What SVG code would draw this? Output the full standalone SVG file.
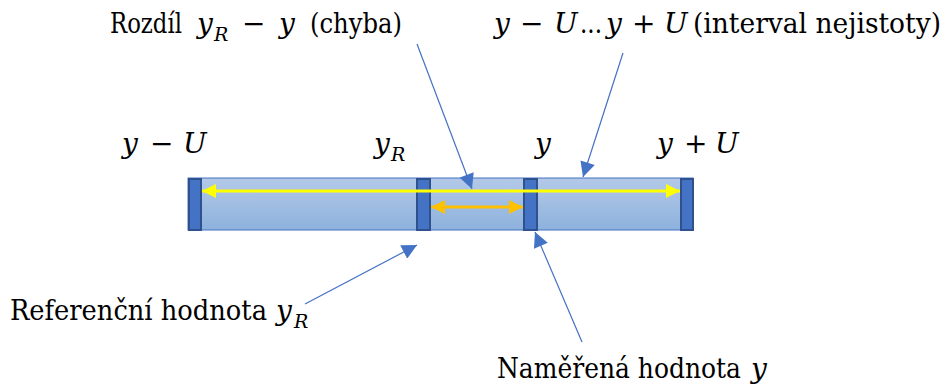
<svg xmlns="http://www.w3.org/2000/svg" width="948" height="387" viewBox="0 0 948 387">
<style>
text{font-family:"DejaVu Serif",serif;font-size:28px;fill:#000;}
.i{font-style:italic;}
.s{font-size:19px;font-style:italic;}
.call{stroke:#4472c4;stroke-width:1.2;fill:none;}
.tick{fill:#4472c4;stroke:#2f528f;stroke-width:2;}
</style>
<defs>
<linearGradient id="g" x1="0" y1="0" x2="0" y2="1">
<stop offset="0" stop-color="#b4c9e8"/>
<stop offset="1" stop-color="#8db2dd"/>
</linearGradient>
<marker id="ah" viewBox="0 0 10 10" refX="10" refY="5" markerUnits="userSpaceOnUse" markerWidth="16" markerHeight="15" orient="auto">
<path d="M0,0 L10,5 L0,10 Z" fill="#4472c4"/>
</marker>
<marker id="ay" viewBox="0 0 10 10" refX="10" refY="5" markerUnits="userSpaceOnUse" markerWidth="14" markerHeight="14" orient="auto-start-reverse">
<path d="M0,0 L10,5 L0,10 Z" fill="#ffff00"/>
</marker>
<marker id="ao" viewBox="0 0 10 10" refX="10" refY="5" markerUnits="userSpaceOnUse" markerWidth="14" markerHeight="14" orient="auto-start-reverse">
<path d="M0,0 L10,5 L0,10 Z" fill="#ffc000"/>
</marker>
</defs>

<g id="bar">
<rect x="188" y="178" width="505" height="52" fill="url(#g)" stroke="#4472c4" stroke-width="1"/>
</g>
<g id="tick-yminusU"><rect class="tick" x="189" y="179" width="12" height="51"/></g>
<g id="tick-yR"><rect class="tick" x="417" y="179" width="13" height="51"/></g>
<g id="tick-y"><rect class="tick" x="524" y="179" width="13" height="51"/></g>
<g id="tick-yplusU"><rect class="tick" x="681" y="179" width="12" height="51"/></g>

<g id="connectors">
<line x1="202" y1="191" x2="680" y2="191" stroke="#ffff00" stroke-width="3" marker-start="url(#ay)" marker-end="url(#ay)"/>
<line x1="431" y1="207" x2="523" y2="207" stroke="#ffc000" stroke-width="3" marker-start="url(#ao)" marker-end="url(#ao)"/>
<line class="call" x1="417" y1="44" x2="472" y2="189" marker-end="url(#ah)"/>
<line class="call" x1="623" y1="53" x2="583" y2="177" marker-end="url(#ah)"/>
<line class="call" x1="305" y1="304" x2="417" y2="245" marker-end="url(#ah)"/>
<line class="call" x1="582" y1="342" x2="535" y2="232" marker-end="url(#ah)"/>
</g>

<g id="label-yminusU">
<text class="i" x="122" y="153">y</text><text x="150" y="153">−</text><text class="i" x="183" y="153">U</text>
</g>
<g id="label-yR">
<text class="i" x="374" y="153">y</text><text class="s" x="391" y="161">R</text>
</g>
<g id="label-y">
<text class="i" x="535" y="153">y</text>
</g>
<g id="label-yplusU">
<text class="i" x="657" y="153">y</text><text x="684" y="153">+</text><text class="i" x="715" y="153">U</text>
</g>

<g id="label-rozdil">
<text x="110" y="33" textLength="72" lengthAdjust="spacingAndGlyphs">Rozdíl</text>
<text class="i" x="197" y="33">y</text><text class="s" x="214" y="41">R</text>
<text x="242" y="33">−</text>
<text class="i" x="279" y="33">y</text>
<text x="310" y="33" textLength="92" lengthAdjust="spacingAndGlyphs">(chyba)</text>
</g>
<g id="label-interval">
<text class="i" x="494" y="33">y</text>
<text x="520" y="33">−</text>
<text class="i" x="554" y="33">U</text>
<text x="580" y="33" textLength="22" lengthAdjust="spacingAndGlyphs">...</text>
<text class="i" x="606" y="33">y</text>
<text x="632" y="33">+</text>
<text class="i" x="664" y="33">U</text>
<text x="693" y="33" textLength="248" lengthAdjust="spacingAndGlyphs">(interval nejistoty)</text>
</g>
<g id="label-ref">
<text x="10" y="320" textLength="257" lengthAdjust="spacingAndGlyphs">Referenční hodnota</text>
<text class="i" x="276" y="320">y</text><text class="s" x="294" y="328">R</text>
</g>
<g id="label-namer">
<text x="497" y="378" textLength="244" lengthAdjust="spacingAndGlyphs">Naměřená hodnota</text>
<text class="i" x="751" y="378">y</text>
</g>
</svg>
